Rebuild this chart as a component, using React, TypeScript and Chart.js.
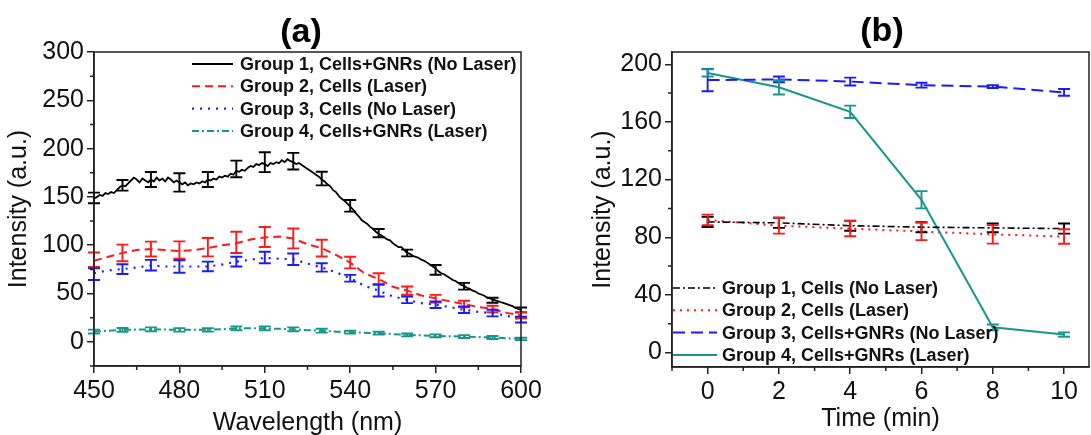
import React, { useEffect, useRef } from "react";
import { Chart, registerables } from "chart.js";

Chart.register(...registerables);

const FONT = "'Liberation Sans', Arial, Helvetica, sans-serif";

// ---------------- Panel (a) data ----------------
const wavelengthStart = 450; // 1-nm grid for group 1 spectrum
const group1Spectrum = [
  148, 150, 152, 151, 154, 153, 155, 154, 157, 160,
  162, 161, 164, 167, 170, 168, 165, 169, 167, 165,
  168, 166, 170, 167, 169, 166, 170, 168, 165, 167,
  165, 163, 165, 162, 164, 163, 165, 164, 166, 165,
  168, 167, 169, 168, 171, 170, 172, 171, 174, 173,
  177, 176, 178, 177, 180, 182, 181, 184, 183, 185,
  184, 182, 185, 184, 186, 185, 188, 186, 189, 187,
  186, 184, 185, 183, 181, 179, 177, 175, 173, 171,
  168, 166, 163, 161, 157, 155, 151, 148, 146, 143,
  140, 137, 133, 130, 126, 124, 122, 119, 117, 114,
  112, 110, 108, 106, 105, 102, 100, 98, 98, 95,
  92, 91, 89, 88, 87, 85, 84, 82, 80, 78,
  76, 73, 71, 70, 68, 66, 64, 63, 61, 59,
  58, 56, 55, 53, 52, 50, 49, 48, 46, 45,
  44, 43, 42, 41, 40, 39, 38, 37, 35, 34,
  33,
];
const wavelength5 = [
  450, 455, 460, 465, 470, 475, 480, 485, 490, 495, 500, 505, 510, 515, 520,
  525, 530, 535, 540, 545, 550, 555, 560, 565, 570, 575, 580, 585, 590, 595, 600,
];
const group2Spectrum = [
  84, 88, 92, 95, 96, 95, 94, 95, 97, 100, 102, 106, 108, 109, 107,
  101, 97, 90, 82, 71, 65, 57, 53, 48, 45, 42, 39, 36, 34, 30, 27.5,
];
const group3Spectrum = [
  71, 74, 75.3, 77, 79, 78, 78, 78, 78, 80, 83, 85, 87, 86, 85.5,
  81, 77, 72, 65.8, 58, 53, 47, 43.5, 40, 38.4, 36, 33.2, 31, 29.8, 27, 23,
];
const group4Spectrum = [
  10.7, 11.5, 12.4, 12.7, 13, 12.7, 12.4, 12.4, 12.4, 13, 14, 14, 14, 13.5, 13,
  12, 11.5, 10.5, 10, 9.5, 9, 8, 7.2, 6.7, 6.2, 5.8, 5.5, 5, 4.5, 3.7, 3,
];
const wavelengthErr = [450, 460, 470, 480, 490, 500, 510, 520, 530, 540, 550, 560, 570, 580, 590, 600];
const group1Mean = [149, 162, 168, 165, 168, 179, 186, 187, 169, 140.8, 112.5, 92, 74.5, 57.5, 43, 33];
const group1Sd = [5.5, 5.5, 7.8, 9.5, 7.8, 8.6, 10.3, 8.6, 7, 6, 4.3, 3.5, 5, 3.5, 2.6, 2.5];
const group2Mean = [85, 92, 96, 95, 98, 103, 108.5, 107, 97, 82, 65.5, 53, 44.6, 39.2, 34, 27.5];
const group2Sd = [7.5, 8.6, 7.7, 9, 9.5, 11, 10.3, 10.3, 8.6, 6, 5.5, 4.3, 4, 3.4, 3.4, 3];
const group3Mean = [70, 75.3, 79.3, 78, 78, 83, 87.3, 85.5, 77, 65.8, 53, 43.5, 38.4, 33.2, 29.8, 23];
const group3Sd = [6, 5, 5.5, 6.5, 5, 5, 6, 6, 4.3, 3.5, 6, 3.4, 3.4, 3.4, 3.4, 3];
const group4Mean = [10.7, 12.4, 13, 12.4, 12.4, 14, 14, 13, 11.5, 10, 9, 7.2, 6.2, 5.5, 4.5, 3];
const group4Sd = [2, 2, 2, 1.8, 1.8, 2, 2, 2, 2, 1.5, 1.5, 1.5, 1.5, 1.5, 1.5, 1.2];

const labelsA = [
  "Group 1, Cells+GNRs (No Laser)",
  "Group 2, Cells (Laser)",
  "Group 3, Cells (No Laser)",
  "Group 4, Cells+GNRs (Laser)",
];
const xTicksA = [450, 480, 510, 540, 570, 600];
const xMinorA = [465, 495, 525, 555, 585];
const yTicksA = [0, 50, 100, 150, 200, 250, 300];
const yMinorA = [-25, 25, 75, 125, 175, 225, 275];

// ---------------- Panel (b) data ----------------
const timeMin = [0, 2, 4, 6, 8, 10];
const bGroup1 = [90.6, 90, 88, 87, 86.5, 86];
const bGroup1Sd = [3.5, 3.5, 3.5, 3.5, 3, 3.5];
const bGroup2 = [92, 88, 86, 84, 82, 80.5];
const bGroup2Sd = [3.7, 5.5, 5.3, 6, 6.4, 5];
const bGroup3 = [189, 189.5, 188, 185.5, 184.5, 180.5];
const bGroup3Sd = [7.7, 2, 2.7, 1.7, 1, 2.3];
const bGroup4 = [194, 184, 167, 106, 17.5, 12.5];
const bGroup4Sd = [2.5, 5, 4.3, 6, 2, 1.5];

const labelsB = [
  "Group 1, Cells (No Laser)",
  "Group 2, Cells (Laser)",
  "Group 3, Cells+GNRs (No Laser)",
  "Group 4, Cells+GNRs (Laser)",
];
const xTicksB = [0, 2, 4, 6, 8, 10];
const xMinorB = [-1, 1, 3, 5, 7, 9];
const yTicksB = [0, 40, 80, 120, 160, 200];
const yMinorB = [20, 60, 100, 140, 180];

const BLACK = "#000000";
const RED = "#ff1a1a";
const BLUE = "#1a1aff";
const TEAL = "#17968c";

function pts(xs: number[], ys: number[]) {
  return ys.map((y, i) => ({ x: xs[i], y }));
}

function extrasPlugin(opts: any) {
  return {
    id: "extras_" + opts.title,
    afterDatasetsDraw(chart: any) {
      const { ctx, scales } = chart;
      const xs = scales.x;
      const ys = scales.y;
      chart.data.datasets.forEach((ds: any) => {
        const eb = ds.errorBars;
        if (!eb) return;
        ctx.save();
        ctx.strokeStyle = ds.borderColor;
        ctx.lineWidth = 1.9;
        ctx.setLineDash([]);
        const cap = 6;
        eb.x.forEach((xv: number, i: number) => {
          const px = xs.getPixelForValue(xv);
          const top = ys.getPixelForValue(eb.mean[i] + eb.sd[i]);
          const bot = ys.getPixelForValue(eb.mean[i] - eb.sd[i]);
          ctx.beginPath();
          ctx.moveTo(px, top);
          ctx.lineTo(px, bot);
          ctx.moveTo(px - cap, top);
          ctx.lineTo(px + cap, top);
          ctx.moveTo(px - cap, bot);
          ctx.lineTo(px + cap, bot);
          ctx.stroke();
        });
        ctx.restore();
      });
    },
    afterDraw(chart: any) {
      const { ctx, chartArea, scales } = chart;
      const xs = scales.x;
      const ys = scales.y;
      ctx.save();
      // frame
      ctx.strokeStyle = "#222";
      ctx.lineWidth = 1.5;
      ctx.setLineDash([]);
      ctx.strokeRect(chartArea.left, chartArea.top, chartArea.right - chartArea.left, chartArea.bottom - chartArea.top);
      // minor ticks
      ctx.beginPath();
      opts.xMinor.forEach((v: number) => {
        const px = xs.getPixelForValue(v);
        ctx.moveTo(px, chartArea.bottom);
        ctx.lineTo(px, chartArea.bottom + 4);
      });
      opts.yMinor.forEach((v: number) => {
        const py = ys.getPixelForValue(v);
        ctx.moveTo(chartArea.left - 4, py);
        ctx.lineTo(chartArea.left, py);
      });
      ctx.stroke();
      // panel title
      ctx.fillStyle = "#000";
      ctx.font = `bold 34px ${FONT}`;
      ctx.textAlign = "center";
      ctx.textBaseline = "middle";
      ctx.fillText(opts.title, opts.titleX, opts.titleY);
      // legend
      const lg = opts.legend;
      ctx.font = `bold 18px ${FONT}`;
      ctx.textAlign = "left";
      ctx.textBaseline = "middle";
      chart.data.datasets.forEach((ds: any, i: number) => {
        const y = lg.y0 + i * lg.dy;
        ctx.strokeStyle = ds.borderColor;
        ctx.lineWidth = ds.borderWidth;
        ctx.setLineDash(ds.borderDash || []);
        ctx.beginPath();
        ctx.moveTo(lg.x0, y);
        ctx.lineTo(lg.x1, y);
        ctx.stroke();
        ctx.setLineDash([]);
        ctx.fillStyle = "#111";
        ctx.fillText(ds.label, lg.tx, y + 1);
      });
      ctx.restore();
    },
  };
}

function scaleCommon(min: number, max: number, ticksArr: number[], title: string, titlePad: any, fitKey: string, fitVal: number) {
  return {
    type: "linear",
    min,
    max,
    afterBuildTicks: (s: any) => {
      s.ticks = ticksArr.map((v) => ({ value: v }));
    },
    afterFit: (s: any) => {
      s[fitKey] = fitVal;
    },
    grid: {
      display: true,
      drawOnChartArea: false,
      drawTicks: true,
      tickLength: 7,
      color: "#222",
      lineWidth: 1.5,
    },
    border: { display: true, color: "#222", width: 1.5 },
    ticks: {
      color: "#111",
      font: { family: FONT, size: 25 },
      padding: 3,
      maxRotation: 0,
      autoSkip: false,
    },
    title: {
      display: true,
      text: title,
      color: "#111",
      font: { family: FONT, size: 25 },
      padding: titlePad,
    },
  };
}

function configA(): any {
  const wl1 = group1Spectrum.map((_, i) => wavelengthStart + i);
  return {
    type: "line",
    data: {
      datasets: [
        {
          label: labelsA[0],
          data: pts(wl1, group1Spectrum),
          borderColor: BLACK,
          borderWidth: 1.8,
          borderDash: [],
          errorBars: { x: wavelengthErr, mean: group1Mean, sd: group1Sd },
        },
        {
          label: labelsA[1],
          data: pts(wavelength5, group2Spectrum),
          borderColor: RED,
          borderWidth: 2,
          borderDash: [8, 5],
          errorBars: { x: wavelengthErr, mean: group2Mean, sd: group2Sd },
        },
        {
          label: labelsA[2],
          data: pts(wavelength5, group3Spectrum),
          borderColor: BLUE,
          borderWidth: 2.2,
          borderDash: [2, 6],
          errorBars: { x: wavelengthErr, mean: group3Mean, sd: group3Sd },
        },
        {
          label: labelsA[3],
          data: pts(wavelength5, group4Spectrum),
          borderColor: TEAL,
          borderWidth: 2,
          borderDash: [7, 3, 2, 3],
          errorBars: { x: wavelengthErr, mean: group4Mean, sd: group4Sd },
        },
      ],
    },
    options: {
      responsive: false,
      animation: false,
      devicePixelRatio: 1,
      layout: { padding: { left: 0, right: 24, top: 52, bottom: 0 } },
      elements: { point: { radius: 0 }, line: { tension: 0, fill: false } },
      plugins: { legend: { display: false }, tooltip: { enabled: false }, title: { display: false } },
      scales: {
        x: scaleCommon(450, 600, xTicksA, "Wavelength (nm)", { top: 0, bottom: -3 }, "height", 69),
        y: scaleCommon(-25, 300, yTicksA, "Intensity (a.u.)", { top: 4, bottom: 0 }, "width", 94),
      },
    },
    plugins: [
      extrasPlugin({
        title: "(a)",
        titleX: 301,
        titleY: 33,
        xMinor: xMinorA,
        yMinor: yMinorA,
        legend: { x0: 192, x1: 233, tx: 240, y0: 64, dy: 22.3 },
      }),
    ],
  };
}

function configB(): any {
  return {
    type: "line",
    data: {
      datasets: [
        {
          label: labelsB[0],
          data: pts(timeMin, bGroup1),
          borderColor: BLACK,
          borderWidth: 1.6,
          borderDash: [7, 3, 2, 3],
          errorBars: { x: timeMin, mean: bGroup1, sd: bGroup1Sd },
        },
        {
          label: labelsB[1],
          data: pts(timeMin, bGroup2),
          borderColor: RED,
          borderWidth: 2,
          borderDash: [2, 5],
          errorBars: { x: timeMin, mean: bGroup2, sd: bGroup2Sd },
        },
        {
          label: labelsB[2],
          data: pts(timeMin, bGroup3),
          borderColor: BLUE,
          borderWidth: 2,
          borderDash: [12, 6],
          errorBars: { x: timeMin, mean: bGroup3, sd: bGroup3Sd },
        },
        {
          label: labelsB[3],
          data: pts(timeMin, bGroup4),
          borderColor: TEAL,
          borderWidth: 2,
          borderDash: [],
          errorBars: { x: timeMin, mean: bGroup4, sd: bGroup4Sd },
        },
      ],
    },
    options: {
      responsive: false,
      animation: false,
      devicePixelRatio: 1,
      layout: { padding: { left: 0, right: 2, top: 52, bottom: 0 } },
      elements: { point: { radius: 0 }, line: { tension: 0, fill: false } },
      plugins: { legend: { display: false }, tooltip: { enabled: false }, title: { display: false } },
      scales: {
        x: scaleCommon(-1, 10.7, xTicksB, "Time (min)", { top: 0, bottom: 1 }, "height", 68),
        y: scaleCommon(-10, 208.5, yTicksB, "Intensity (a.u.)", { top: 43, bottom: 0 }, "width", 127),
      },
    },
    plugins: [
      extrasPlugin({
        title: "(b)",
        titleX: 337,
        titleY: 32,
        xMinor: xMinorB,
        yMinor: yMinorB,
        legend: { x0: 128, x1: 172, tx: 177, y0: 288, dy: 22.3 },
      }),
    ],
  };
}

export default function App() {
  const refA = useRef<HTMLCanvasElement>(null);
  const refB = useRef<HTMLCanvasElement>(null);
  useEffect(() => {
    const a = new Chart(refA.current as HTMLCanvasElement, configA());
    const b = new Chart(refB.current as HTMLCanvasElement, configB());
    return () => {
      a.destroy();
      b.destroy();
    };
  }, []);
  return (
    <div style={{ position: "absolute", left: 0, top: 0, width: 1091, height: 435, background: "#fff", overflow: "hidden" }}>
      <canvas ref={refA} width={545} height={435} style={{ position: "absolute", left: 0, top: 0, width: 545, height: 435 }} />
      <canvas ref={refB} width={546} height={435} style={{ position: "absolute", left: 545, top: 0, width: 546, height: 435 }} />
    </div>
  );
}
